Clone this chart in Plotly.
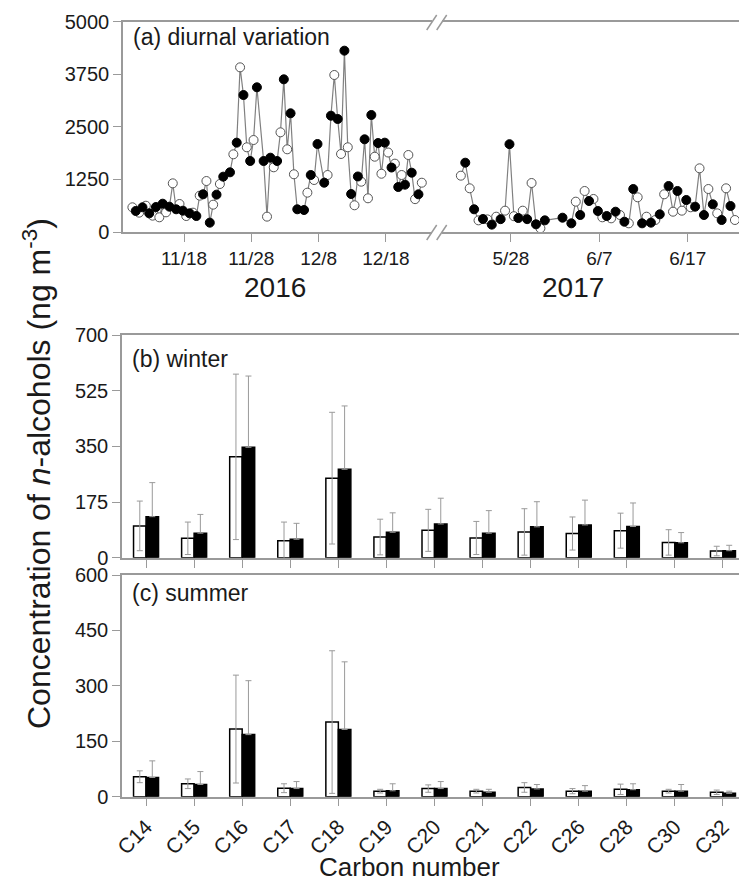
import plotly.graph_objects as go
import pandas as pd

# The page places the figure 8 px in from the window's top-left corner,
# so layout positions are given in window pixels and shifted by that offset.
OFF = 8
W, H = 747 - OFF, 884 - OFF


def fx(px):
    return (px - OFF) / W


def fy(py):
    return 1 - (py - OFF) / H


# ---------------- Panel (a): diurnal variation ----------------
# 2016 winter, daytime samples (open circles)
day16_dates = ["2016-11-10", "2016-11-11", "2016-11-12", "2016-11-13", "2016-11-14", "2016-11-15",
               "2016-11-16", "2016-11-17", "2016-11-18", "2016-11-19", "2016-11-20", "2016-11-21",
               "2016-11-22", "2016-11-23", "2016-11-25", "2016-11-26", "2016-11-27", "2016-11-28",
               "2016-11-30", "2016-12-01", "2016-12-02", "2016-12-03", "2016-12-04", "2016-12-06",
               "2016-12-07", "2016-12-09", "2016-12-10", "2016-12-11", "2016-12-12", "2016-12-13",
               "2016-12-14", "2016-12-15", "2016-12-16", "2016-12-17", "2016-12-18", "2016-12-19",
               "2016-12-20", "2016-12-21", "2016-12-22", "2016-12-23"]
day16_vals = [587, 460, 625, 388, 349, 468, 1157, 666, 380, 460, 864, 1212, 650, 1141, 1847, 3915,
              2014, 2187, 365, 1538, 2370, 1966, 1372, 935, 1236, 1355, 3733, 1855, 2014, 635, 1196,
              801, 1790, 1385, 1890, 1625, 1355, 1831, 781, 1172]
# 2016 winter, nighttime samples (filled circles)
night16_dates = ["2016-11-10", "2016-11-11", "2016-11-12", "2016-11-13", "2016-11-14", "2016-11-15",
                 "2016-11-16", "2016-11-17", "2016-11-18", "2016-11-19", "2016-11-20", "2016-11-21",
                 "2016-11-22", "2016-11-23", "2016-11-24", "2016-11-25", "2016-11-26", "2016-11-27",
                 "2016-11-28", "2016-11-29", "2016-11-30", "2016-12-01", "2016-12-02", "2016-12-03",
                 "2016-12-04", "2016-12-05", "2016-12-06", "2016-12-07", "2016-12-08", "2016-12-09",
                 "2016-12-10", "2016-12-11", "2016-12-12", "2016-12-13", "2016-12-14", "2016-12-15",
                 "2016-12-16", "2016-12-17", "2016-12-18", "2016-12-19", "2016-12-20", "2016-12-21",
                 "2016-12-22"]
night16_vals = [500, 587, 444, 594, 673, 602, 540, 507, 444, 380, 896, 222, 888, 1316, 1419, 2124,
                3257, 1688, 3440, 1688, 1767, 1688, 3630, 2822, 540, 523, 1355, 2092, 1172, 2765,
                2687, 4311, 903, 1320, 2204, 2782, 2115, 2124, 1533, 1070, 1125, 1410, 896]

# 2017 summer, daytime samples (open circles)
day17_dates = ["2017-05-22", "2017-05-23", "2017-05-24", "2017-05-25", "2017-05-26", "2017-05-27",
               "2017-05-28", "2017-05-29", "2017-05-30", "2017-05-31", "2017-06-04", "2017-06-05",
               "2017-06-06", "2017-06-07", "2017-06-08", "2017-06-09", "2017-06-10", "2017-06-11",
               "2017-06-12", "2017-06-13", "2017-06-14", "2017-06-15", "2017-06-16", "2017-06-17",
               "2017-06-18", "2017-06-19", "2017-06-20", "2017-06-21", "2017-06-22"]
day17_vals = [1339, 1039, 277, 300, 364, 507, 376, 507, 1165, 88, 721, 975, 785, 349, 325, 404, 206,
              825, 364, 285, 896, 483, 507, 587, 1514, 1022, 444, 1039, 285]
# 2017 summer, nighttime samples (filled circles)
night17_dates = ["2017-05-22", "2017-05-23", "2017-05-24", "2017-05-25", "2017-05-26", "2017-05-27",
                 "2017-05-28", "2017-05-29", "2017-05-30", "2017-05-31", "2017-06-02", "2017-06-03",
                 "2017-06-04", "2017-06-05", "2017-06-06", "2017-06-07", "2017-06-08", "2017-06-09",
                 "2017-06-10", "2017-06-11", "2017-06-12", "2017-06-13", "2017-06-14", "2017-06-15",
                 "2017-06-16", "2017-06-17", "2017-06-18", "2017-06-19", "2017-06-20", "2017-06-21"]
night17_vals = [1648, 540, 309, 175, 305, 2088, 332, 305, 183, 277, 340, 206, 404, 737, 499, 380, 483,
                245, 1022, 206, 222, 420, 1094, 975, 761, 602, 404, 658, 285, 618]

DAY_HOUR = " 08:00"
NIGHT_HOUR = " 20:00"

tick16_vals = ["2016-11-18", "2016-11-28", "2016-12-08", "2016-12-18"]
tick16_text = ["11/18", "11/28", "12/8", "12/18"]
tick17_vals = ["2017-05-28", "2017-06-07", "2017-06-17"]
tick17_text = ["5/28", "6/7", "6/17"]
range16 = ["2016-11-08 22:30", "2016-12-24 20:20"]
range17 = ["2017-05-20 04:50", "2017-06-23 16:50"]
ya_ticks = [0, 1250, 2500, 3750, 5000]

# ---------------- Panels (b), (c): carbon number distribution ----------------
carbons = ["C14", "C15", "C16", "C17", "C18", "C19", "C20", "C21", "C22", "C26", "C28", "C30", "C32"]
winter_day_mean = [100, 61, 317, 53, 250, 65, 86, 62, 81, 76, 85, 48, 21]
winter_day_sd = [78, 51, 260, 59, 207, 56, 66, 52, 73, 52, 55, 40, 15]
winter_night_mean = [129, 77, 347, 58, 278, 80, 106, 77, 97, 103, 98, 47, 22]
winter_night_sd = [107, 59, 224, 50, 199, 61, 81, 71, 79, 78, 74, 32, 17]
summer_day_mean = [54, 35, 183, 23, 202, 15, 22, 15, 25, 15, 20, 15, 12]
summer_day_sd = [16, 13, 146, 12, 193, 5, 10, 5, 13, 7, 14, 5, 6]
summer_night_mean = [52, 33, 168, 22, 182, 16, 22, 12, 21, 15, 19, 15, 9]
summer_night_sd = [45, 35, 146, 19, 183, 19, 19, 8, 12, 15, 16, 18, 6]
yb_ticks = [0, 175, 350, 525, 700]
yc_ticks = [0, 150, 300, 450, 600]

FONT = "Liberation Sans, Arial, sans-serif"
TXT = "#1a1a1a"
AX = "#9a9a9a"

fig = go.Figure()


def add_segment(dd, dv, nd, nv, xa):
    dt = pd.to_datetime([d + DAY_HOUR for d in dd])
    nt = pd.to_datetime([d + NIGHT_HOUR for d in nd])
    df = pd.DataFrame({"t": list(dt) + list(nt), "v": list(dv) + list(nv)}).sort_values("t")
    fig.add_trace(go.Scatter(x=df["t"], y=df["v"], mode="lines",
                             line=dict(color="#808080", width=1.2),
                             xaxis=xa, yaxis="y", showlegend=False, hoverinfo="skip"))
    fig.add_trace(go.Scatter(x=dt, y=dv, mode="markers",
                             marker=dict(symbol="circle", size=9, color="white",
                                         line=dict(color="#555555", width=1)),
                             xaxis=xa, yaxis="y", showlegend=False))
    fig.add_trace(go.Scatter(x=nt, y=nv, mode="markers",
                             marker=dict(symbol="circle", size=9, color="black",
                                         line=dict(color="black", width=1)),
                             xaxis=xa, yaxis="y", showlegend=False))


add_segment(day16_dates, day16_vals, night16_dates, night16_vals, "x")
add_segment(day17_dates, day17_vals, night17_dates, night17_vals, "x2")


def add_bars(xa, ya, dm, dsd, nm, nsd):
    fig.add_trace(go.Bar(x=carbons, y=dm, xaxis=xa, yaxis=ya, showlegend=False,
                         marker=dict(color="white", line=dict(color="black", width=1.5)),
                         error_y=dict(type="data", array=dsd, color=AX, thickness=1, width=3)))
    fig.add_trace(go.Bar(x=carbons, y=nm, xaxis=xa, yaxis=ya, showlegend=False,
                         marker=dict(color="black", line=dict(color="black", width=1.5)),
                         error_y=dict(type="data", symmetric=False, array=nsd,
                                      arrayminus=[0] * len(nsd), color=AX, thickness=1, width=3)))


add_bars("x3", "y3", winter_day_mean, winter_day_sd, winter_night_mean, winter_night_sd)
add_bars("x4", "y4", summer_day_mean, summer_day_sd, summer_night_mean, summer_night_sd)

common_ax = dict(showline=True, linecolor=AX, linewidth=1.5, ticks="outside", tickcolor=AX,
                 tickwidth=1, showgrid=False, zeroline=False, automargin=False,
                 tickfont=dict(family=FONT, size=20, color=TXT))

fig.update_layout(
    width=W, height=H,
    margin=dict(l=0, r=0, t=0, b=0),
    paper_bgcolor="white", plot_bgcolor="white",
    barmode="group", bargap=0.48, bargroupgap=0,
    font=dict(family=FONT, color=TXT),
    xaxis=dict(common_ax, type="date", domain=[fx(123), fx(432)], range=range16, anchor="y",
               tickvals=tick16_vals, ticktext=tick16_text, ticklen=8, mirror=True,
               tickfont=dict(family=FONT, size=19, color=TXT)),
    xaxis2=dict(common_ax, type="date", domain=[fx(442), 1.0], range=range17, anchor="y",
                tickvals=tick17_vals, ticktext=tick17_text, ticklen=8, mirror=True,
                tickfont=dict(family=FONT, size=19, color=TXT)),
    yaxis=dict(common_ax, domain=[fy(232), fy(21.7)], range=[0, 5000], anchor="x",
               tickvals=ya_ticks, ticklen=8),
    xaxis3=dict(common_ax, type="category", domain=[fx(122), 1.0], range=[-0.5, 12.5],
                anchor="y3", ticklen=9, showticklabels=False, mirror=True),
    yaxis3=dict(common_ax, domain=[fy(557.7), fy(335)], range=[0, 700], anchor="x3",
                tickvals=yb_ticks, ticklen=8),
    xaxis4=dict(common_ax, type="category", domain=[fx(122), 1.0], range=[-0.5, 12.5],
                anchor="y4", ticklen=8, tickangle=-45, mirror=True,
                tickfont=dict(family=FONT, size=21, color=TXT)),
    yaxis4=dict(common_ax, domain=[fy(796.7), fy(575)], range=[0, 600], anchor="x4",
                tickvals=yc_ticks, ticklen=8),
)

# axis-break marks
shapes = []
for y0 in (30, 240):
    for x0 in (426.7, 436.7):
        shapes.append(dict(type="line", xref="paper", yref="paper",
                           x0=fx(x0), y0=fy(y0), x1=fx(x0 + 10), y1=fy(y0 - 15),
                           line=dict(color=AX, width=1.5)))
fig.update_layout(shapes=shapes)

ann = [
    dict(text="(a) diurnal variation", x=fx(131), y=fy(37), xanchor="left", yanchor="middle",
         font=dict(size=23)),
    dict(text="(b) winter", x=fx(130), y=fy(359), xanchor="left", yanchor="middle",
         font=dict(size=23)),
    dict(text="(c) summer", x=fx(130), y=fy(593), xanchor="left", yanchor="middle",
         font=dict(size=23)),
    dict(text="2016", x=fx(275), y=fy(287), xanchor="center", yanchor="middle",
         font=dict(size=28)),
    dict(text="2017", x=fx(573), y=fy(287), xanchor="center", yanchor="middle",
         font=dict(size=28)),
    dict(text="Carbon number", x=fx(409), y=fy(867), xanchor="center", yanchor="middle",
         font=dict(size=26)),
    dict(text="Concentration of <i>n</i>-alcohols (ng m<sup>-3</sup>)", x=fx(37), y=fy(474),
         xanchor="center", yanchor="middle", textangle=-90, font=dict(size=32)),
]
for a in ann:
    a.update(xref="paper", yref="paper", showarrow=False)
    a["font"].update(family=FONT, color=TXT)
fig.update_layout(annotations=ann)

fig.write_html("out.html")
